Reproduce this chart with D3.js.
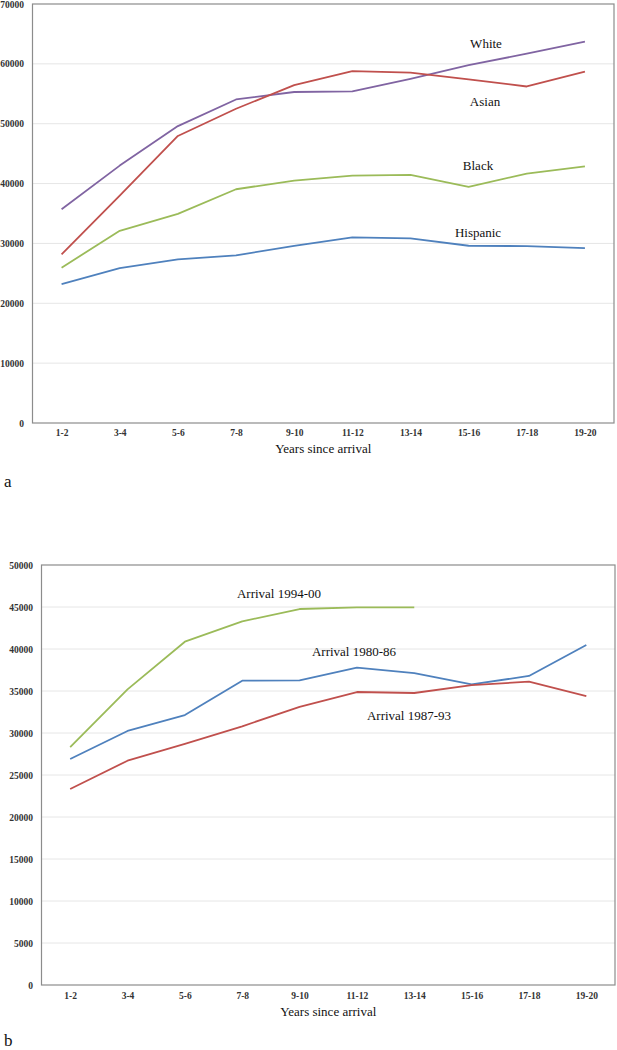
<!DOCTYPE html>
<html><head><meta charset="utf-8">
<script src="https://cdn.jsdelivr.net/npm/d3@7"></script>
<style>body{margin:0;background:#fff}svg{display:block}</style>
</head><body>
<svg id="c" width="617" height="1050"></svg>
<script>
const categories = ["1-2","3-4","5-6","7-8","9-10","11-12","13-14","15-16","17-18","19-20"];
const yTicksA = [0,10000,20000,30000,40000,50000,60000,70000];
const yTicksB = [0,5000,10000,15000,20000,25000,30000,35000,40000,45000,50000];

const white    = [35700,43000,49600,54050,55300,55400,57500,59800,61700,63700];
const asian    = [28170,38000,47950,52500,56450,58780,58550,57400,56220,58720];
const black    = [25950,32110,34950,39050,40500,41330,41450,39450,41670,42880];
const hispanic = [23220,25890,27330,28000,29600,31000,30830,29610,29550,29220];

const arr9400 = [28330,35200,40870,43290,44760,44960,44960,null,null,null];
const arr8086 = [26900,30240,32140,36230,36270,37780,37140,35790,36790,40480];
const arr8793 = [23330,26700,28700,30800,33100,34880,34760,35710,36110,34400];

const seriesA = [
  {name:"White", values:white, color:"#8064A2", lx:486, ly:43},
  {name:"Asian", values:asian, color:"#C0504D", lx:485, ly:101},
  {name:"Black", values:black, color:"#9BBB59", lx:478, ly:165},
  {name:"Hispanic", values:hispanic, color:"#4F81BD", lx:478, ly:232}
];
const seriesB = [
  {name:"Arrival 1994-00", values:arr9400, color:"#9BBB59", lx:279, ly:593},
  {name:"Arrival 1980-86", values:arr8086, color:"#4F81BD", lx:354, ly:651},
  {name:"Arrival 1987-93", values:arr8793, color:"#C0504D", lx:409, ly:715}
];

const svg = d3.select("#c");
const serif = "'Liberation Serif','Times New Roman',serif";

function drawChart(cfg){
  const g = svg.append("g");
  const x = d3.scalePoint().domain(categories).range([cfg.left, cfg.right]).padding(0.5);
  const y = d3.scaleLinear().domain([0, cfg.max]).range([cfg.bottom, cfg.top]);
  g.append("g").selectAll("line").data(cfg.ticks.filter(t=>t>0 && t<cfg.max)).join("line")
    .attr("x1", cfg.left).attr("x2", cfg.right)
    .attr("y1", d=>y(d)).attr("y2", d=>y(d))
    .attr("stroke", "#e6e6e6").attr("stroke-width", 1);
  g.append("rect").attr("x", cfg.left).attr("y", cfg.top)
    .attr("width", cfg.right-cfg.left).attr("height", cfg.bottom-cfg.top)
    .attr("fill","none").attr("stroke","#8c8c8c").attr("stroke-width",1.2);
  const ya = g.append("g").attr("transform", `translate(${cfg.left},0)`)
    .call(d3.axisLeft(y).tickValues(cfg.ticks).tickSize(0).tickPadding(cfg.left - cfg.ylabelRight).tickFormat(d3.format("d")));
  ya.select(".domain").remove();
  ya.selectAll("text").attr("font-family", serif).attr("font-size", 9.5).attr("font-weight","bold").attr("fill","#333");
  const xa = g.append("g").attr("transform", `translate(0,${cfg.bottom})`)
    .call(d3.axisBottom(x).tickSize(0).tickPadding(cfg.xlabelPad));
  xa.select(".domain").remove();
  xa.selectAll("text").attr("font-family", serif).attr("font-size", 9.5).attr("font-weight","bold").attr("fill","#333");
  g.append("text").attr("x", (cfg.left+cfg.right)/2).attr("y", cfg.titleY)
    .attr("text-anchor","middle").attr("font-family", serif).attr("font-size", 13).attr("fill","#111")
    .text("Years since arrival");
  const line = d3.line().defined(d=>d.v!=null).x(d=>x(d.c)).y(d=>y(d.v));
  cfg.series.forEach(s=>{
    g.append("path").datum(categories.map((c,i)=>({c, v:s.values[i]})))
      .attr("d", line).attr("fill","none").attr("stroke", s.color).attr("stroke-width", 1.8)
      .attr("stroke-linejoin","round");
    g.append("text").attr("x", s.lx).attr("y", s.ly).attr("dy","0.35em")
      .attr("text-anchor","middle").attr("font-family", serif).attr("font-size", 13).attr("fill","#111")
      .text(s.name);
  });
  svg.append("text").attr("x", 4).attr("y", cfg.letterY).attr("dy","0.35em")
    .attr("font-family", serif).attr("font-size", 17).attr("fill","#111").text(cfg.letter);
}

drawChart({left:32.5, right:614, top:4, bottom:423, max:70000, ticks:yTicksA,
  ylabelRight:24, xlabelPad:6, titleY:453, series:seriesA, letter:"a", letterY:481});
drawChart({left:41.5, right:615, top:565, bottom:985, max:50000, ticks:yTicksB,
  ylabelRight:33, xlabelPad:7, titleY:1016, series:seriesB, letter:"b", letterY:1040});
</script>
</body></html>
